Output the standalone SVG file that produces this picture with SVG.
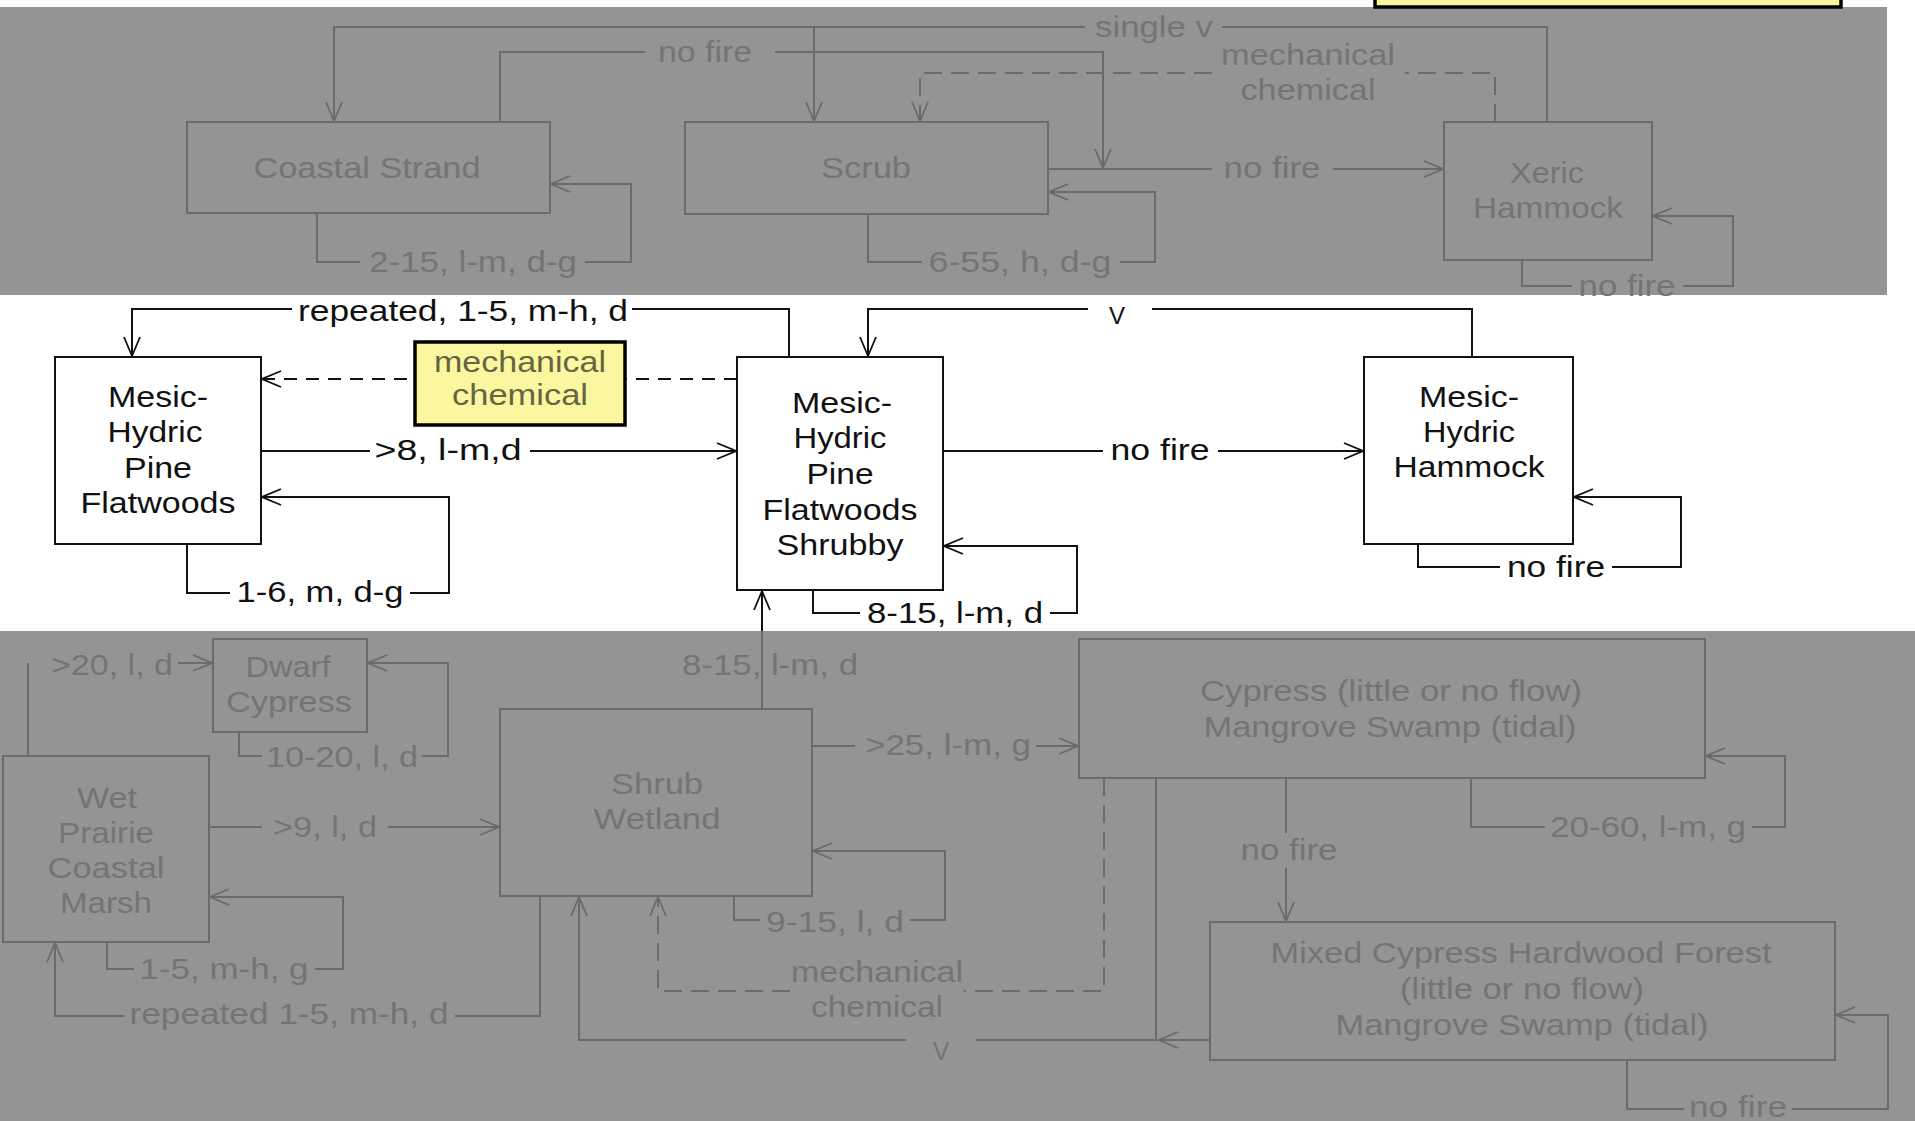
<svg xmlns="http://www.w3.org/2000/svg" width="1915" height="1121" viewBox="0 0 1915 1121">
<style>
 .band{fill:#949494}
 .ng rect{fill:none;stroke:#6b6b6b;stroke-width:2}
 .nk rect{fill:#fff;stroke:#111;stroke-width:2}
 text{font-family:"Liberation Sans",Arial,sans-serif;font-size:29px;text-anchor:middle}
 .tg{fill:#747474}
 .tk{fill:#111}
 .cg path{fill:none;stroke:#6b6b6b;stroke-width:2}
 .ck path{fill:none;stroke:#111;stroke-width:2}
 .cg .d{stroke-dasharray:18 9}
 .ck .d{stroke-dasharray:13 9}
 .note rect{fill:#fbf7a0;stroke:#000;stroke-width:3.5}
 .tn{fill:#66653f}
 .ag{marker-end:url(#ag)}
 .ak{marker-end:url(#ak)}
</style>
<defs>
 <marker id="ag" viewBox="-22 -11 24 22" refX="0" refY="0" markerWidth="24" markerHeight="22" markerUnits="userSpaceOnUse" orient="auto"><path d="M-19,-8 L0,0 L-19,8" fill="none" stroke="#6b6b6b" stroke-width="1.8"/></marker>
 <marker id="ak" viewBox="-22 -11 24 22" refX="0" refY="0" markerWidth="24" markerHeight="22" markerUnits="userSpaceOnUse" orient="auto"><path d="M-19,-8 L0,0 L-19,8" fill="none" stroke="#111" stroke-width="1.8"/></marker>
</defs>
<rect width="1915" height="1121" fill="#fff"/>
<rect class="band" x="0" y="7" width="1887" height="288"/>
<rect class="band" x="0" y="631" width="1915" height="490"/>

<g id="connectors">
 <g class="cg">
  <path d="M1547,122 V27 H1222"/>
  <path class="ag" d="M1085,27 H334 V121"/>
  <path class="ag" d="M814,27 V121"/>
  <path d="M500,122 V52 H645"/>
  <path class="ag" d="M775,52 H1103 V168"/>
  <path class="d" d="M1495,122 V73 H1405"/>
  <path class="d ag" d="M1212,73 H920 V121"/>
  <path d="M1048,169 H1212"/>
  <path class="ag" d="M1333,169 H1443"/>
  <path d="M317,213 V262 H360"/>
  <path class="ag" d="M585,262 H631 V184 H551"/>
  <path d="M868,214 V262 H922"/>
  <path class="ag" d="M1120,262 H1155 V192 H1049"/>
  <path d="M1522,260 V286 H1572"/>
  <path class="ag" d="M1683,286 H1733 V216 H1653"/>
  <text class="tg" x="1154" y="37" textLength="118" lengthAdjust="spacingAndGlyphs">single v</text>
  <text class="tg" x="705" y="62" textLength="94" lengthAdjust="spacingAndGlyphs">no fire</text>
  <text class="tg" x="1308" y="65" textLength="174" lengthAdjust="spacingAndGlyphs">mechanical</text>
  <text class="tg" x="1308" y="100" textLength="135" lengthAdjust="spacingAndGlyphs">chemical</text>
  <text class="tg" x="1272" y="178" textLength="97" lengthAdjust="spacingAndGlyphs">no fire</text>
  <text class="tg" x="473" y="272" textLength="208" lengthAdjust="spacingAndGlyphs">2-15, l-m, d-g</text>
  <text class="tg" x="1020" y="272" textLength="183" lengthAdjust="spacingAndGlyphs">6-55, h, d-g</text>
  <text class="tg" x="1627" y="296" textLength="97" lengthAdjust="spacingAndGlyphs">no fire</text>

  <path d="M762,709 V631"/>
  <path d="M28,756 V663"/>
  <path class="ag" d="M178,663 H212"/>
  <path d="M239,732 V756 H262"/>
  <path class="ag" d="M422,756 H448 V663 H368"/>
  <path d="M209,827 H262"/>
  <path class="ag" d="M388,827 H499"/>
  <path d="M107,942 V969 H134"/>
  <path class="ag" d="M315,969 H343 V897 H210"/>
  <path d="M540,896 V1016 H455"/>
  <path class="ag" d="M124,1016 H55 V943"/>
  <path d="M812,746 H855"/>
  <path class="ag" d="M1036,746 H1078"/>
  <path d="M734,896 V920 H760"/>
  <path class="ag" d="M910,920 H945 V851 H813"/>
  <path class="d" d="M1104,778 V991 H964"/>
  <path class="d ag" d="M790,991 H658 V897"/>
  <path class="ag" d="M1210,1040 H1159"/>
  <path d="M1156,778 V1040 H976"/>
  <path class="ag" d="M906,1040 H579 V897"/>
  <path d="M1286,778 V833"/>
  <path class="ag" d="M1286,868 V921"/>
  <path d="M1471,778 V827 H1545"/>
  <path class="ag" d="M1752,827 H1785 V756 H1706"/>
  <path d="M1627,1060 V1109 H1684"/>
  <path class="ag" d="M1792,1109 H1888 V1015 H1836"/>
  <text class="tg" x="770" y="675" textLength="176" lengthAdjust="spacingAndGlyphs">8-15, l-m, d</text>
  <text class="tg" x="112" y="675" textLength="122" lengthAdjust="spacingAndGlyphs">&gt;20, l, d</text>
  <text class="tg" x="342" y="767" textLength="152" lengthAdjust="spacingAndGlyphs">10-20, l, d</text>
  <text class="tg" x="325" y="837" textLength="104" lengthAdjust="spacingAndGlyphs">&gt;9, l, d</text>
  <text class="tg" x="224" y="979" textLength="169" lengthAdjust="spacingAndGlyphs">1-5, m-h, g</text>
  <text class="tg" x="289" y="1024" textLength="319" lengthAdjust="spacingAndGlyphs">repeated 1-5, m-h, d</text>
  <text class="tg" x="948" y="755" textLength="166" lengthAdjust="spacingAndGlyphs">&gt;25, l-m, g</text>
  <text class="tg" x="835" y="932" textLength="138" lengthAdjust="spacingAndGlyphs">9-15, l, d</text>
  <text class="tg" x="877" y="982" textLength="172" lengthAdjust="spacingAndGlyphs">mechanical</text>
  <text class="tg" x="877" y="1017" textLength="132" lengthAdjust="spacingAndGlyphs">chemical</text>
  <text class="tg" x="941" y="1060" style="font-size:25px">V</text>
  <text class="tg" x="1289" y="860" textLength="97" lengthAdjust="spacingAndGlyphs">no fire</text>
  <text class="tg" x="1648" y="837" textLength="196" lengthAdjust="spacingAndGlyphs">20-60, l-m, g</text>
  <text class="tg" x="1738" y="1117" textLength="98" lengthAdjust="spacingAndGlyphs">no fire</text>
 </g>
 <g class="ck">
  <path d="M789,357 V309 H632"/>
  <path class="ak" d="M292,309 H132 V356"/>
  <path d="M1472,357 V309 H1152"/>
  <path class="ak" d="M1088,309 H868 V356"/>
  <path class="d ak" d="M737,379 H262"/>
  <path d="M261,451 H370"/>
  <path class="ak" d="M530,451 H736"/>
  <path d="M943,451 H1103"/>
  <path class="ak" d="M1218,451 H1363"/>
  <path d="M187,544 V593 H230"/>
  <path class="ak" d="M410,593 H449 V497 H262"/>
  <path d="M813,590 V613 H860"/>
  <path class="ak" d="M1050,613 H1077 V546 H944"/>
  <path d="M1418,544 V567 H1500"/>
  <path class="ak" d="M1612,567 H1681 V497 H1574"/>
  <path class="ak" d="M762,631 V591"/>
  <text class="tk" x="463" y="321" textLength="330" lengthAdjust="spacingAndGlyphs">repeated, 1-5, m-h, d</text>
  <text class="tk" x="1117" y="324" style="font-size:24px">V</text>
  <text class="tk" x="448" y="460" textLength="147" lengthAdjust="spacingAndGlyphs">&gt;8, l-m,d</text>
  <text class="tk" x="1160" y="460" textLength="99" lengthAdjust="spacingAndGlyphs">no fire</text>
  <text class="tk" x="320" y="602" textLength="167" lengthAdjust="spacingAndGlyphs">1-6, m, d-g</text>
  <text class="tk" x="955" y="623" textLength="176" lengthAdjust="spacingAndGlyphs">8-15, l-m, d</text>
  <text class="tk" x="1556" y="577" textLength="98" lengthAdjust="spacingAndGlyphs">no fire</text>
 </g>
</g>

<g id="n-coastal-strand" class="ng">
 <rect x="187" y="122" width="363" height="91"/>
 <text class="tg" x="367" y="178" textLength="227" lengthAdjust="spacingAndGlyphs">Coastal Strand</text>
</g>
<g id="n-scrub" class="ng">
 <rect x="685" y="122" width="363" height="92"/>
 <text class="tg" x="866" y="178" textLength="90" lengthAdjust="spacingAndGlyphs">Scrub</text>
</g>
<g id="n-xeric-hammock" class="ng">
 <rect x="1444" y="122" width="208" height="138"/>
 <text class="tg" x="1547" y="183" textLength="74" lengthAdjust="spacingAndGlyphs">Xeric</text>
 <text class="tg" x="1548" y="218" textLength="150" lengthAdjust="spacingAndGlyphs">Hammock</text>
</g>

<g id="n-mhpf" class="nk">
 <rect x="55" y="357" width="206" height="187"/>
 <text class="tk" x="158" y="407" textLength="100" lengthAdjust="spacingAndGlyphs">Mesic-</text>
 <text class="tk" x="155" y="442" textLength="95" lengthAdjust="spacingAndGlyphs">Hydric</text>
 <text class="tk" x="158" y="478" textLength="68" lengthAdjust="spacingAndGlyphs">Pine</text>
 <text class="tk" x="158" y="513" textLength="155" lengthAdjust="spacingAndGlyphs">Flatwoods</text>
</g>
<g id="n-mhpf-shrubby" class="nk">
 <rect x="737" y="357" width="206" height="233"/>
 <text class="tk" x="842" y="413" textLength="100" lengthAdjust="spacingAndGlyphs">Mesic-</text>
 <text class="tk" x="840" y="448" textLength="93" lengthAdjust="spacingAndGlyphs">Hydric</text>
 <text class="tk" x="840" y="484" textLength="67" lengthAdjust="spacingAndGlyphs">Pine</text>
 <text class="tk" x="840" y="520" textLength="155" lengthAdjust="spacingAndGlyphs">Flatwoods</text>
 <text class="tk" x="840" y="555" textLength="127" lengthAdjust="spacingAndGlyphs">Shrubby</text>
</g>
<g id="n-mhh" class="nk">
 <rect x="1364" y="357" width="209" height="187"/>
 <text class="tk" x="1469" y="407" textLength="100" lengthAdjust="spacingAndGlyphs">Mesic-</text>
 <text class="tk" x="1469" y="442" textLength="92" lengthAdjust="spacingAndGlyphs">Hydric</text>
 <text class="tk" x="1469" y="477" textLength="151" lengthAdjust="spacingAndGlyphs">Hammock</text>
</g>

<g id="n-dwarf-cypress" class="ng">
 <rect x="213" y="639" width="154" height="93"/>
 <text class="tg" x="288" y="677" textLength="85" lengthAdjust="spacingAndGlyphs">Dwarf</text>
 <text class="tg" x="289" y="712" textLength="126" lengthAdjust="spacingAndGlyphs">Cypress</text>
</g>
<g id="n-wet-prairie" class="ng">
 <rect x="3" y="756" width="206" height="186"/>
 <text class="tg" x="107" y="808" textLength="60" lengthAdjust="spacingAndGlyphs">Wet</text>
 <text class="tg" x="106" y="843" textLength="96" lengthAdjust="spacingAndGlyphs">Prairie</text>
 <text class="tg" x="106" y="878" textLength="117" lengthAdjust="spacingAndGlyphs">Coastal</text>
 <text class="tg" x="106" y="913" textLength="92" lengthAdjust="spacingAndGlyphs">Marsh</text>
</g>
<g id="n-shrub-wetland" class="ng">
 <rect x="500" y="709" width="312" height="187"/>
 <text class="tg" x="657" y="794" textLength="92" lengthAdjust="spacingAndGlyphs">Shrub</text>
 <text class="tg" x="657" y="829" textLength="127" lengthAdjust="spacingAndGlyphs">Wetland</text>
</g>
<g id="n-cypress" class="ng">
 <rect x="1079" y="639" width="626" height="139"/>
 <text class="tg" x="1391" y="701" textLength="382" lengthAdjust="spacingAndGlyphs">Cypress (little or no flow)</text>
 <text class="tg" x="1390" y="737" textLength="373" lengthAdjust="spacingAndGlyphs">Mangrove Swamp (tidal)</text>
</g>
<g id="n-mixed-cypress" class="ng">
 <rect x="1210" y="922" width="625" height="138"/>
 <text class="tg" x="1521" y="963" textLength="501" lengthAdjust="spacingAndGlyphs">Mixed Cypress Hardwood Forest</text>
 <text class="tg" x="1522" y="999" textLength="244" lengthAdjust="spacingAndGlyphs">(little or no flow)</text>
 <text class="tg" x="1522" y="1035" textLength="373" lengthAdjust="spacingAndGlyphs">Mangrove Swamp (tidal)</text>
</g>

<g id="n-note-mechanical" class="note">
 <rect x="415" y="342" width="210" height="83"/>
 <text class="tn" x="520" y="372" textLength="172" lengthAdjust="spacingAndGlyphs">mechanical</text>
 <text class="tn" x="520" y="405" textLength="136" lengthAdjust="spacingAndGlyphs">chemical</text>
</g>
<g id="n-note-top" class="note">
 <rect x="1375" y="-12" width="466" height="19"/>
</g>
</svg>
